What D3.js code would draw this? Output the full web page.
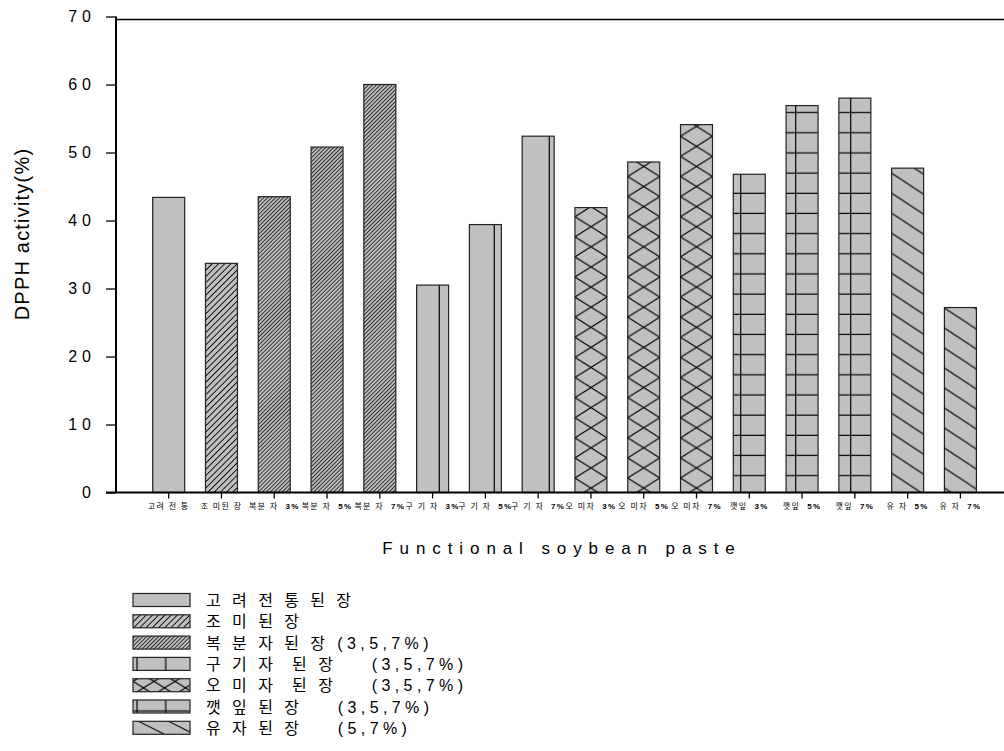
<!DOCTYPE html>
<html>
<head>
<meta charset="utf-8">
<script src="https://cdnjs.cloudflare.com/ajax/libs/d3/7.8.5/d3.min.js"></script>
<style>
body { margin: 0; background: #fff; }
text { font-family: "Liberation Sans", Arial, "Noto Sans CJK KR", sans-serif; fill: #000; }
</style>
</head>
<body>
<svg id="chart" width="1004" height="751"></svg>
<script>
// ---------------- data ----------------
var productNames = ["고려 전 통", "조 미된 장", "복분 자", "복분 자", "복분 자",
                    "구 기 자", "구 기 자", "구 기 자", "오 미자", "오 미자", "오 미자",
                    "깻잎", "깻잎", "깻잎", "유 자", "유 자"];
var concLabels = ["", "", "3%", "5%", "7%", "3%", "5%", "7%", "3%", "5%", "7%",
                  "3%", "5%", "7%", "5%", "7%"];
var dpph = [43.4, 33.7, 43.5, 50.8, 60.0, 30.5, 39.4, 52.4, 41.9, 48.6, 54.1,
            46.8, 56.9, 58.0, 47.7, 27.2];
// which legend group every bar belongs to
var groupOf = [0, 1, 2, 2, 2, 3, 3, 3, 4, 4, 4, 5, 5, 5, 6, 6];
var legendNames = ["고 려 전 통 된 장", "조 미 된 장", "복 분 자 된 장",
                   "구 기 자  된 장", "오 미 자  된 장", "깻 잎 된 장", "유 자 된 장"];
var legendConc = ["", "", " (3,5,7%)", "    (3,5,7%)", "    (3,5,7%)",
                  "    (3,5,7%)", "    (5,7%)"];
var yTicks = [0, 10, 20, 30, 40, 50, 60, 70];
var xTitle = "Functional soybean paste";
var yTitle = "DPPH activity(%)";

var GRAY = "#c0c0c0";

var svg = d3.select("#chart");
var defs = svg.append("defs");

var keys = dpph.map(function(d, i) { return "b" + i; });

// bars: step ~52.8px, width ~32px
var x = d3.scaleBand()
    .domain(keys)
    .range([142.3, 986.8])
    .paddingInner(0.394)
    .paddingOuter(0.197);

var y = d3.scaleLinear()
    .domain([0, 70])
    .range([492.5, 16.5]);

// ---------------- fill patterns ----------------
function pat(id, w, h, px, py, tr) {
  var p = defs.append("pattern")
      .attr("id", id)
      .attr("patternUnits", "userSpaceOnUse")
      .attr("width", w).attr("height", h)
      .attr("x", px).attr("y", py);
  if (tr) p.attr("patternTransform", tr);
  p.append("rect").attr("width", w).attr("height", h).attr("fill", GRAY);
  return p;
}
function ln(p, x1, y1, x2, y2, sw) {
  p.append("line")
      .attr("x1", x1).attr("y1", y1).attr("x2", x2).attr("y2", y2)
      .attr("stroke", "#000")
      .attr("stroke-width", sw || 1);
}

// patterns for the bars
function barFill(g, i) {
  var id = "bp" + i, p, W, H, k;
  var bx = x(keys[i]), bw = x.bandwidth();
  if (g == 0) return GRAY;
  if (g == 1) { p = pat(id, 4.4, 4.4, 0, 0, "rotate(45)"); ln(p, 2.2, 0, 2.2, 4.4, 0.9); }
  if (g == 2) { p = pat(id, 2.8, 2.8, 0, 0, "rotate(45)"); ln(p, 1.4, 0, 1.4, 2.8, 0.75); }
  if (g == 3) { p = pat(id, 55, 10, 0, 0); ln(p, 54.3, 0, 54.3, 10, 1.2); }
  if (g == 4) {
    W = bw; H = 20.1;
    p = pat(id, W, H, bx, 216.7);
    for (k = -1; k <= 1; k++) {
      ln(p, 0, k * H, W, H + k * H, 1.1);
      ln(p, 0, H + k * H, W, k * H, 1.1);
    }
  }
  if (g == 5) {
    p = pat(id, 55, 20.17, 0, 465.7);
    ln(p, 25.7, 0, 25.7, 20.17, 1.2);
    ln(p, 0, 10, 55, 10, 1.2);
  }
  if (g == 6) {
    W = 30.3; H = 20;
    p = pat(id, W, H, 0, 4.6);
    for (k = -1; k <= 1; k++) ln(p, 0, k * H, W, H + k * H, 1.1);
  }
  return "url(#" + id + ")";
}

// patterns for the legend swatches
function legendFill(g, sx, sy, sw, sh) {
  var id = "lp" + g, p;
  if (g == 0) return GRAY;
  if (g == 1) { p = pat(id, 4.4, 4.4, 0, 0, "rotate(45)"); ln(p, 2.2, 0, 2.2, 4.4, 0.9); }
  if (g == 2) { p = pat(id, 2.8, 2.8, 0, 0, "rotate(45)"); ln(p, 1.4, 0, 1.4, 2.8, 0.75); }
  if (g == 3) { p = pat(id, 28.7, sh, sx, sy); ln(p, 4, 0, 4, sh, 1.2); }
  if (g == 4) {
    p = pat(id, 21, sh, sx - 10.5, sy);
    ln(p, 0, 0, 21, sh, 1.1);
    ln(p, 0, sh, 21, 0, 1.1);
  }
  if (g == 5) {
    p = pat(id, 28.7, sh, sx, sy);
    ln(p, 4, 0, 4, sh, 1.2);
    ln(p, 0, sh / 2, 28.7, sh / 2, 1.2);
  }
  if (g == 6) { p = pat(id, 30, sh, sx + 5, sy); ln(p, 0, 0, 26, sh, 1.1); }
  return "url(#" + id + ")";
}

// ---------------- bars ----------------
svg.append("g")
  .selectAll("rect")
  .data(dpph)
  .enter().append("rect")
    .attr("x", function(d, i) { return x(keys[i]); })
    .attr("y", function(d) { return y(d); })
    .attr("width", x.bandwidth())
    .attr("height", function(d) { return y(0) - y(d); })
    .attr("fill", function(d, i) { return barFill(groupOf[i], i); })
    .attr("stroke", "#222")
    .attr("stroke-width", 1.2);

// ---------------- axes ----------------
var yAxis = svg.append("g")
    .attr("transform", "translate(116,0)")
    .call(d3.axisLeft(y).tickValues(yTicks).tickSize(10).tickPadding(10).tickFormat(d3.format("d")));
yAxis.select(".domain").remove();
yAxis.selectAll(".tick line").attr("stroke-width", 1.3);
yAxis.selectAll(".tick text")
    .attr("font-size", 16)
    .attr("font-family", null)
    .style("letter-spacing", "5px");

var xAxis = svg.append("g")
    .attr("transform", "translate(0," + y(0) + ")")
    .call(d3.axisBottom(x).tickSize(6).tickFormat(""));
xAxis.select(".domain").remove();
xAxis.selectAll(".tick line").attr("stroke-width", 1.3);
xAxis.selectAll(".tick").each(function(d, i) {
  var t = d3.select(this).append("text")
      .attr("y", 16)
      .attr("text-anchor", "middle")
      .attr("font-size", 8)
      .style("letter-spacing", "1.3px")
      .style("white-space", "pre");
  t.append("tspan").text(productNames[i] + (concLabels[i] ? "  " : ""));
  t.append("tspan").attr("font-weight", "bold").text(concLabels[i]);
});

// axis frame lines
svg.append("line")
    .attr("x1", 116).attr("x2", 116)
    .attr("y1", y(70)).attr("y2", y(0))
    .attr("stroke", "#000").attr("stroke-width", 2);
svg.append("line")
    .attr("x1", 116).attr("x2", 1004)
    .attr("y1", y(70) + 3).attr("y2", y(70) + 3)
    .attr("stroke", "#000").attr("stroke-width", 1.5);
svg.append("line")
    .attr("x1", 106).attr("x2", 1004)
    .attr("y1", y(0)).attr("y2", y(0))
    .attr("stroke", "#000").attr("stroke-width", 2);

// titles
svg.append("text")
    .attr("transform", "translate(29,234) rotate(-90)")
    .attr("text-anchor", "middle")
    .attr("font-size", 20)
    .style("letter-spacing", "1.2px")
    .text(yTitle);

svg.append("text")
    .attr("x", 562)
    .attr("y", 554)
    .attr("text-anchor", "middle")
    .attr("font-size", 17)
    .style("letter-spacing", "6.9px")
    .text(xTitle);

// ---------------- legend ----------------
var legend = svg.append("g")
  .selectAll("g")
  .data(legendNames)
  .enter().append("g")
    .attr("transform", function(d, i) { return "translate(0," + (600 + i * 21.3) + ")"; });

legend.append("rect")
    .attr("x", 133)
    .attr("y", -6.5)
    .attr("width", 57)
    .attr("height", 13)
    .attr("fill", function(d, i) { return legendFill(i, 133, 600 + i * 21.3 - 6.5, 57, 13); })
    .attr("stroke", "#222")
    .attr("stroke-width", 1.2);

var legText = legend.append("text")
    .attr("x", 206)
    .attr("y", 6)
    .attr("font-size", 16)
    .style("white-space", "pre");
legText.append("tspan")
    .style("letter-spacing", "3.45px")
    .text(function(d) { return d; });
legText.append("tspan")
    .style("letter-spacing", "4.4px")
    .text(function(d, i) { return legendConc[i]; });
</script>
</body>
</html>
